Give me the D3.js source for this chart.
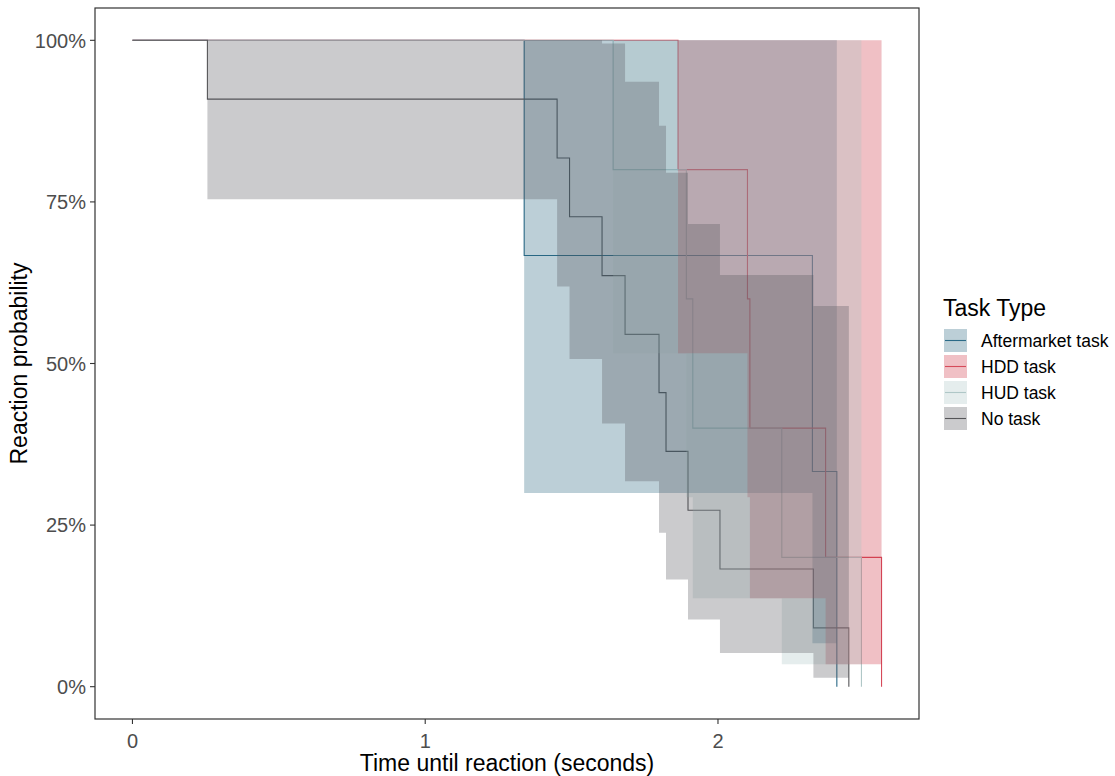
<!DOCTYPE html>
<html><head><meta charset="utf-8">
<script src="https://cdn.jsdelivr.net/npm/d3@7"></script>
<style>body{margin:0;background:#fff} text{font-family:"Liberation Sans",Arial,sans-serif}</style>
</head><body><svg id="c" width="1115" height="776"></svg>
<script>
// ---- data ----
const groups = ["Aftermarket task", "HDD task", "HUD task", "No task"];
const fillColors = ["#205F7A", "#CD2D3E", "#A8C3C3", "#525258"];
const lineColors = ["#2A6A87", "#D64A5A", "#AFC7C7", "#555558"];

const aftermarketTime  = [0, 1.338, 2.3225, 2.406];
const aftermarketSurv  = [1, 0.667, 0.333, 0];
const aftermarketUpper = [1, 1, 1];
const aftermarketLower = [1, 0.2995, 0.0673];

const hddTime  = [0, 1.8635, 2.1007, 2.109, 2.3676, 2.5587];
const hddSurv  = [1, 0.8, 0.6, 0.4, 0.2, 0];
const hddUpper = [1, 1, 1, 1, 1];
const hddLower = [1, 0.516, 0.293, 0.137, 0.0347];

const hudTime  = [0, 1.642, 1.892, 1.914, 2.218, 2.490];
const hudSurv  = [1, 0.8, 0.6, 0.4, 0.2, 0];
const hudUpper = [1, 1, 1, 1, 1];
const hudLower = [1, 0.516, 0.293, 0.137, 0.0347];

const noTaskTime  = [0, 0.256, 1.4505, 1.493, 1.604, 1.6826, 1.7986, 1.8225, 1.8976, 2.0068, 2.326, 2.447];
const noTaskSurv  = [1, 0.909, 0.818, 0.727, 0.636, 0.545, 0.455, 0.364, 0.273, 0.182, 0.091, 0];
const noTaskUpper = [1, 1, 1, 1, 0.995, 0.936, 0.868, 0.795, 0.716, 0.637, 0.589];
const noTaskLower = [1, 0.754, 0.619, 0.507, 0.407, 0.318, 0.238, 0.166, 0.104, 0.052, 0.014];

const xTicks = [0, 1, 2];
const yTicks = [0, 0.25, 0.5, 0.75, 1];
const yTickLabels = ["0%", "25%", "50%", "75%", "100%"];

const series = [
  {time: aftermarketTime, surv: aftermarketSurv, upper: aftermarketUpper, lower: aftermarketLower},
  {time: hddTime, surv: hddSurv, upper: hddUpper, lower: hddLower},
  {time: hudTime, surv: hudSurv, upper: hudUpper, lower: hudLower},
  {time: noTaskTime, surv: noTaskSurv, upper: noTaskUpper, lower: noTaskLower}
];

// ---- layout ----
const svg = d3.select("#c");
const P = {l: 95, r: 919, t: 8, b: 719};
const tMax = d3.max(series, s => d3.max(s.time));
const x = d3.scaleLinear().domain([-0.05 * tMax, 1.05 * tMax]).range([P.l, P.r]);
const y = d3.scaleLinear().domain([-0.05, 1.05]).range([P.b, P.t]);

const lineGen = d3.line().x(d => x(d[0])).y(d => y(d[1])).curve(d3.curveStepAfter);
const areaGen = d3.area().x(d => x(d[0])).y0(d => y(d[1])).y1(d => y(d[2])).curve(d3.curveStepAfter);

const gPlot = svg.append("g");
// survival step lines first
series.forEach((s, i) => {
  const pts = s.time.map((t, k) => [t, s.surv[k]]);
  gPlot.append("path").attr("d", lineGen(pts)).attr("fill", "none")
    .attr("stroke", lineColors[i]).attr("stroke-width", 1.1);
});
// confidence ribbons on top
series.forEach((s, i) => {
  const n = s.lower.length;
  const pts = s.lower.map((l, k) => [s.time[k], l, s.upper[k]]);
  pts.push([s.time[n], s.lower[n - 1], s.upper[n - 1]]);
  gPlot.append("path").attr("d", areaGen(pts)).attr("fill", fillColors[i])
    .attr("fill-opacity", 0.3).attr("stroke", "none");
});

// panel border
svg.append("rect").attr("x", P.l).attr("y", P.t).attr("width", P.r - P.l).attr("height", P.b - P.t)
  .attr("fill", "none").attr("stroke", "#333333").attr("stroke-width", 1.2);

// axes
const gx = svg.append("g");
xTicks.forEach(v => {
  gx.append("line").attr("x1", x(v)).attr("x2", x(v)).attr("y1", P.b).attr("y2", P.b + 5)
    .attr("stroke", "#333333").attr("stroke-width", 1.1);
  gx.append("text").attr("x", x(v)).attr("y", 748).attr("text-anchor", "middle")
    .attr("font-size", 20).attr("fill", "#4D4D4D").text(d3.format("d")(v));
});
const gy = svg.append("g");
yTicks.forEach((v, i) => {
  gy.append("line").attr("x1", P.l - 5).attr("x2", P.l).attr("y1", y(v)).attr("y2", y(v))
    .attr("stroke", "#333333").attr("stroke-width", 1.1);
  gy.append("text").attr("x", 86).attr("y", y(v)).attr("dy", "0.36em").attr("text-anchor", "end")
    .attr("font-size", 20).attr("fill", "#4D4D4D").text(yTickLabels[i]);
});

svg.append("text").attr("x", (P.l + P.r) / 2).attr("y", 771).attr("text-anchor", "middle")
  .attr("font-size", 23).attr("fill", "#000").text("Time until reaction (seconds)");
svg.append("text").attr("transform", `translate(27,${(P.t + P.b) / 2}) rotate(-90)`)
  .attr("text-anchor", "middle").attr("font-size", 23).attr("fill", "#000").text("Reaction probability");

// legend
const lg = svg.append("g");
lg.append("text").attr("x", 943).attr("y", 316).attr("font-size", 23).attr("fill", "#000").text("Task Type");
groups.forEach((g, i) => {
  const ky = 329 + i * 26;
  lg.append("rect").attr("x", 944).attr("y", ky).attr("width", 23).attr("height", 23)
    .attr("fill", fillColors[i]).attr("fill-opacity", 0.3);
  lg.append("line").attr("x1", 945).attr("x2", 966).attr("y1", ky + 11.5).attr("y2", ky + 11.5)
    .attr("stroke", lineColors[i]).attr("stroke-width", 1.1);
  lg.append("text").attr("x", 981).attr("y", ky + 11.5).attr("dy", "0.36em")
    .attr("font-size", 17.5).attr("fill", "#000").text(g);
});
</script></body></html>
